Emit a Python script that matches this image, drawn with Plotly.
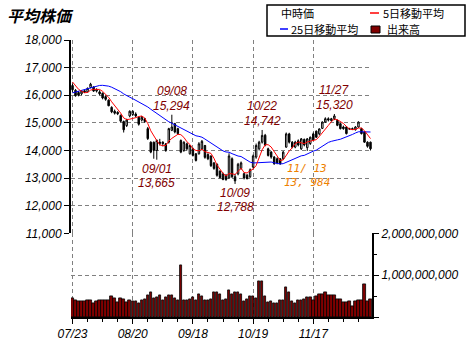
import plotly.graph_objects as go
import pandas as pd

# ---------------- data ----------------
tick_idx = [0, 20, 40, 60, 80]
tick_labels = ["07/23", "08/20", "09/18", "10/19", "11/17"]

# closes of the 24 trading days before the first shown day (for moving averages)
pre_close = [15200, 15300, 15350, 15250, 15400, 15450, 15500, 15550, 15600, 15800,
             16000, 16200, 16350, 16500, 16600, 16700, 16750, 16800, 16700, 16750,
             16700, 16600, 16500, 16400]

open_ = [16350, 16180, 16100, 16050, 16160, 16120, 16280, 16300, 16150, 16120,
         16070, 15950, 15820, 15560, 15420, 15380, 15270, 15050, 14900, 15250,
         15300, 15320, 15200, 15100, 15150, 14790, 14300, 14300, 14000, 14250,
         14300, 14240, 14300, 14730, 14970, 14790, 14360, 14000, 14240, 13880,
         14060, 13880, 13880, 14060, 14180, 13850, 13800, 13550, 13500, 13250,
         13150, 13100, 13000, 13700, 13050, 13150, 13350, 13160, 13100, 13050,
         13400, 13760, 14060, 14300, 14550, 14060, 13940, 13760, 13700, 13700,
         13700, 14120, 14600, 14300, 14120, 14350, 14060, 14400, 14100, 14250,
         14600, 14700, 14600, 14800, 15030, 15150, 15080, 15150, 15090, 14970,
         14850, 14850, 14790, 14780, 14750, 14850, 14790, 14670, 14300, 14300]
high = [16420, 16220, 16150, 16180, 16200, 16280, 16450, 16320, 16250, 16180,
        16100, 16000, 15850, 15600, 15480, 15420, 15300, 15080, 15150, 15450,
        15450, 15380, 15230, 15250, 15180, 14850, 14330, 14320, 14400, 14420,
        14330, 14270, 14820, 15294, 15000, 14820, 14400, 14330, 14280, 14200,
        14100, 13900, 14300, 14380, 14200, 13900, 13820, 13580, 13530, 13280,
        13200, 13150, 13900, 13750, 13150, 13550, 13600, 13200, 13150, 13350,
        13850, 14250, 14350, 14742, 14600, 14100, 13980, 13800, 13750, 13720,
        13980, 14650, 14640, 14340, 14350, 14400, 14450, 14430, 14450, 14500,
        14650, 14720, 14800, 15050, 15200, 15200, 15180, 15320, 15120, 15000,
        14900, 14880, 14820, 14830, 14880, 15050, 14820, 14700, 14330, 14320]
low = [16120, 15950, 15960, 16000, 16080, 16100, 16250, 16120, 16100, 16000,
       15850, 15800, 15600, 15350, 15300, 15280, 15020, 14650, 14850, 15200,
       15250, 15200, 14900, 15050, 15000, 14380, 13900, 13700, 13665, 14180,
       14150, 13950, 14250, 14700, 14620, 14560, 13900, 13950, 14000, 13850,
       13780, 13600, 13850, 14000, 13700, 13650, 13400, 13300, 13050, 12980,
       12920, 12900, 12980, 13000, 12788, 13100, 13300, 12950, 12950, 13000,
       13350, 13700, 14000, 14250, 14150, 13780, 13700, 13480, 13500, 13480,
       13650, 14100, 14250, 14080, 14080, 14150, 14020, 14150, 13984, 14200,
       14350, 14450, 14550, 14780, 15000, 15050, 15050, 15100, 14880, 14760,
       14750, 14580, 14740, 14750, 14720, 14820, 14580, 14280, 14100, 14000]
close = [16200, 15980, 16000, 16150, 16120, 16250, 16400, 16150, 16200, 16050,
         15900, 15850, 15620, 15400, 15350, 15330, 15060, 14750, 15100, 15420,
         15420, 15250, 14950, 15200, 15050, 14430, 13940, 14000, 14360, 14300,
         14250, 14000, 14790, 14850, 14670, 14610, 13940, 14300, 14060, 14180,
         13820, 13640, 14240, 14330, 13750, 13700, 13450, 13350, 13100, 13020,
         12950, 12950, 13800, 13050, 12900, 13500, 13550, 13000, 12980, 13300,
         13800, 14180, 14300, 14545, 14200, 13820, 13760, 13520, 13550, 13520,
         13940, 14600, 14300, 14120, 14300, 14200, 14420, 14200, 14420, 14480,
         14380, 14480, 14780, 15030, 15150, 15100, 15150, 15250, 14910, 14790,
         14790, 14610, 14780, 14790, 14850, 15030, 14610, 14300, 14150, 14060]

# volume, millions of shares
volume_m = [436, 396, 380, 364, 364, 388, 388, 324, 364, 388,
            388, 388, 388, 483, 436, 340, 436, 412, 340, 388,
            364, 364, 324, 388, 412, 507, 579, 436, 460, 507,
            388, 460, 507, 507, 436, 388, 1245, 388, 388, 412,
            460, 388, 531, 483, 388, 388, 412, 579, 602, 531,
            388, 412, 650, 531, 579, 579, 531, 364, 412, 483,
            483, 436, 864, 864, 483, 340, 364, 317, 317, 388,
            388, 698, 579, 364, 317, 388, 388, 412, 460, 460,
            388, 483, 531, 531, 579, 507, 507, 507, 412, 412,
            340, 340, 364, 245, 364, 388, 388, 793, 364, 412]

# marked highs / lows: (day index, date text, value text, kind, value)
marks = [
    (33, "09/08", "15,294", "high", 15294),
    (28, "09/01", "13,665", "low", 13665),
    (54, "10/09", "12,788", "low", 12788),
    (63, "10/22", "14,742", "high", 14742),
    (87, "11/27", "15,320", "high", 15320),
]
mark_recent = (78, "11/ 13", "13, 984", 13984)

# ---------------- derived ----------------
n = len(close)
xs = list(range(n))
full = pd.Series(pre_close + close, dtype=float)
ma5 = full.rolling(5).mean().iloc[len(pre_close):].tolist()
ma25 = full.rolling(25).mean().iloc[len(pre_close):].tolist()
volume = [v * 1_000_000 for v in volume_m]

# ---------------- figure ----------------
W, H = 467, 345
L_M, R_M, T_M, B_M = 71, 95, 40, 28
PW = W - L_M - R_M
PH = H - T_M - B_M
split = (317 - 233.3) / PH

def px(x):
    return (x - L_M) / PW

def py(y):
    return (H - B_M - y) / PH

MAROON = "#800000"
GRID = "#808080"
TICKFONT = dict(family="Liberation Sans", size=12, color="black", style="italic")
JP = "Noto Sans CJK JP"

fig = go.Figure()
fig.add_trace(go.Candlestick(
    x=xs, open=open_, high=high, low=low, close=close,
    xaxis="x", yaxis="y",
    increasing=dict(line=dict(color="black", width=1), fillcolor="white"),
    decreasing=dict(line=dict(color="black", width=1), fillcolor="black"),
    whiskerwidth=0, showlegend=False, hoverinfo="skip"))
fig.add_trace(go.Scatter(x=xs, y=ma25, mode="lines", line=dict(color="#0000ff", width=1),
                         xaxis="x", yaxis="y", showlegend=False, hoverinfo="skip"))
fig.add_trace(go.Scatter(x=xs, y=ma5, mode="lines", line=dict(color="#ff0000", width=1),
                         xaxis="x", yaxis="y", showlegend=False, hoverinfo="skip"))
fig.add_trace(go.Bar(x=xs, y=volume, xaxis="x2", yaxis="y2", width=0.8,
                     marker=dict(color=MAROON, line=dict(color="black", width=0.8)),
                     showlegend=False, hoverinfo="skip"))

xrange_ = [-0.5, n - 0.5]
grid = dict(showgrid=True, gridcolor=GRID, gridwidth=1, griddash="4px,3px", automargin=False)

fig.update_layout(
    width=W, height=H, margin=dict(l=L_M, r=R_M, t=T_M, b=B_M, autoexpand=False),
    paper_bgcolor="white", plot_bgcolor="white", showlegend=False,
    bargap=0,
    xaxis=dict(domain=[0, 1], range=xrange_, anchor="y", matches="x2",
               tickmode="array", tickvals=tick_idx, showticklabels=False, ticks="",
               showline=False, zeroline=False, rangeslider=dict(visible=False), **grid),
    xaxis2=dict(domain=[0, 1], range=xrange_, anchor="y2",
                tickmode="array", tickvals=tick_idx, ticktext=tick_labels,
                ticks="outside", ticklen=5, tickwidth=1, tickcolor="black",
                tickfont=TICKFONT, showline=True, linecolor="black", linewidth=2,
                zeroline=False,
                minor=dict(tickmode="array", tickvals=list(range(0, n, 5)), ticks="outside",
                           ticklen=3, tickcolor="black", showgrid=False),
                **grid),
    yaxis=dict(domain=[split, 1], range=[11000, 18000], anchor="x",
               tickmode="linear", tick0=11000, dtick=1000, tickformat=",d",
               ticks="outside", ticklen=5, tickwidth=1, tickcolor="black",
               tickfont=TICKFONT, showline=True, linecolor="black", linewidth=2,
               zeroline=False, **grid),
    yaxis2=dict(domain=[0, split], range=[0, 2e9], anchor="x2", side="right",
                tickmode="array", tickvals=[0, 1e9, 2e9],
                ticktext=["", "1,000,000,000", "2,000,000,000"],
                ticks="outside", ticklen=5, tickwidth=1, tickcolor="black",
                tickfont=TICKFONT, showline=True, linecolor="black", linewidth=2,
                zeroline=False,
                minor=dict(tickmode="array", tickvals=[0.5e9, 1.5e9], ticks="outside",
                           ticklen=3, tickcolor="black", showgrid=False),
                **grid),
)

ann = []
# title
ann.append(dict(xref="paper", yref="paper", x=px(5), y=py(15), xanchor="left", yanchor="middle",
                text="平均株価", showarrow=False,
                font=dict(family=JP, size=16, color="black", weight="bold", style="italic")))

# high / low marks
LBL = dict(family="Liberation Sans", size=12, color=MAROON, style="italic")
for idx, dtxt, vtxt, kind, val in marks:
    if kind == "high":
        s_date, s_val = 24, 9
    else:
        s_date, s_val = -9, -23
    ann.append(dict(xref="x", yref="y", x=idx, y=val, text=dtxt, showarrow=False,
                    yshift=s_date, font=LBL, xanchor="center", yanchor="middle"))
    ann.append(dict(xref="x", yref="y", x=idx, y=val, text=vtxt, showarrow=False,
                    yshift=s_val, font=LBL, xanchor="center", yanchor="middle"))
ORANGE_F = dict(family="DejaVu Sans Mono", size=11, color="#EE8000", style="italic")
ridx, rdate, rval, rnum = mark_recent
ann.append(dict(xref="x", yref="y", x=ridx, y=rnum, text=rdate, showarrow=False,
                yshift=-18, font=ORANGE_F, xanchor="center", yanchor="middle"))
ann.append(dict(xref="x", yref="y", x=ridx, y=rnum, text=rval, showarrow=False,
                yshift=-32, font=ORANGE_F, xanchor="center", yanchor="middle"))

# legend texts
LEGF = dict(family=JP, size=11, color="black")
ROW1, ROW2 = 13, 29
ann.append(dict(xref="paper", yref="paper", x=px(279), y=py(ROW1), xanchor="left", yanchor="middle",
                text="中時価", showarrow=False, font=LEGF))
ann.append(dict(xref="paper", yref="paper", x=px(381), y=py(ROW1), xanchor="left", yanchor="middle",
                text="5日移動平均", showarrow=False, font=LEGF))
ann.append(dict(xref="paper", yref="paper", x=px(289), y=py(ROW2), xanchor="left", yanchor="middle",
                text="25日移動平均", showarrow=False, font=LEGF))
ann.append(dict(xref="paper", yref="paper", x=px(385), y=py(ROW2), xanchor="left", yanchor="middle",
                text="出来高", showarrow=False, font=LEGF))
fig.update_layout(annotations=ann)

shapes = []
shapes.append(dict(type="rect", xref="paper", yref="paper", x0=px(267), x1=px(465),
                   y0=py(36), y1=py(5), line=dict(color="black", width=1.5), fillcolor="white",
                   layer="above"))
shapes.append(dict(type="line", xref="paper", yref="paper", x0=px(370), x1=px(379),
                   y0=py(ROW1), y1=py(ROW1), line=dict(color="#ff0000", width=1.5)))
shapes.append(dict(type="line", xref="paper", yref="paper", x0=px(280), x1=px(288),
                   y0=py(ROW2), y1=py(ROW2), line=dict(color="#0000ff", width=1.5)))
shapes.append(dict(type="rect", xref="paper", yref="paper", x0=px(371), x1=px(380),
                   y0=py(ROW2 + 4), y1=py(ROW2 - 3), line=dict(color="black", width=1),
                   fillcolor=MAROON))
fig.update_layout(shapes=shapes)

fig.write_html("out.html")
